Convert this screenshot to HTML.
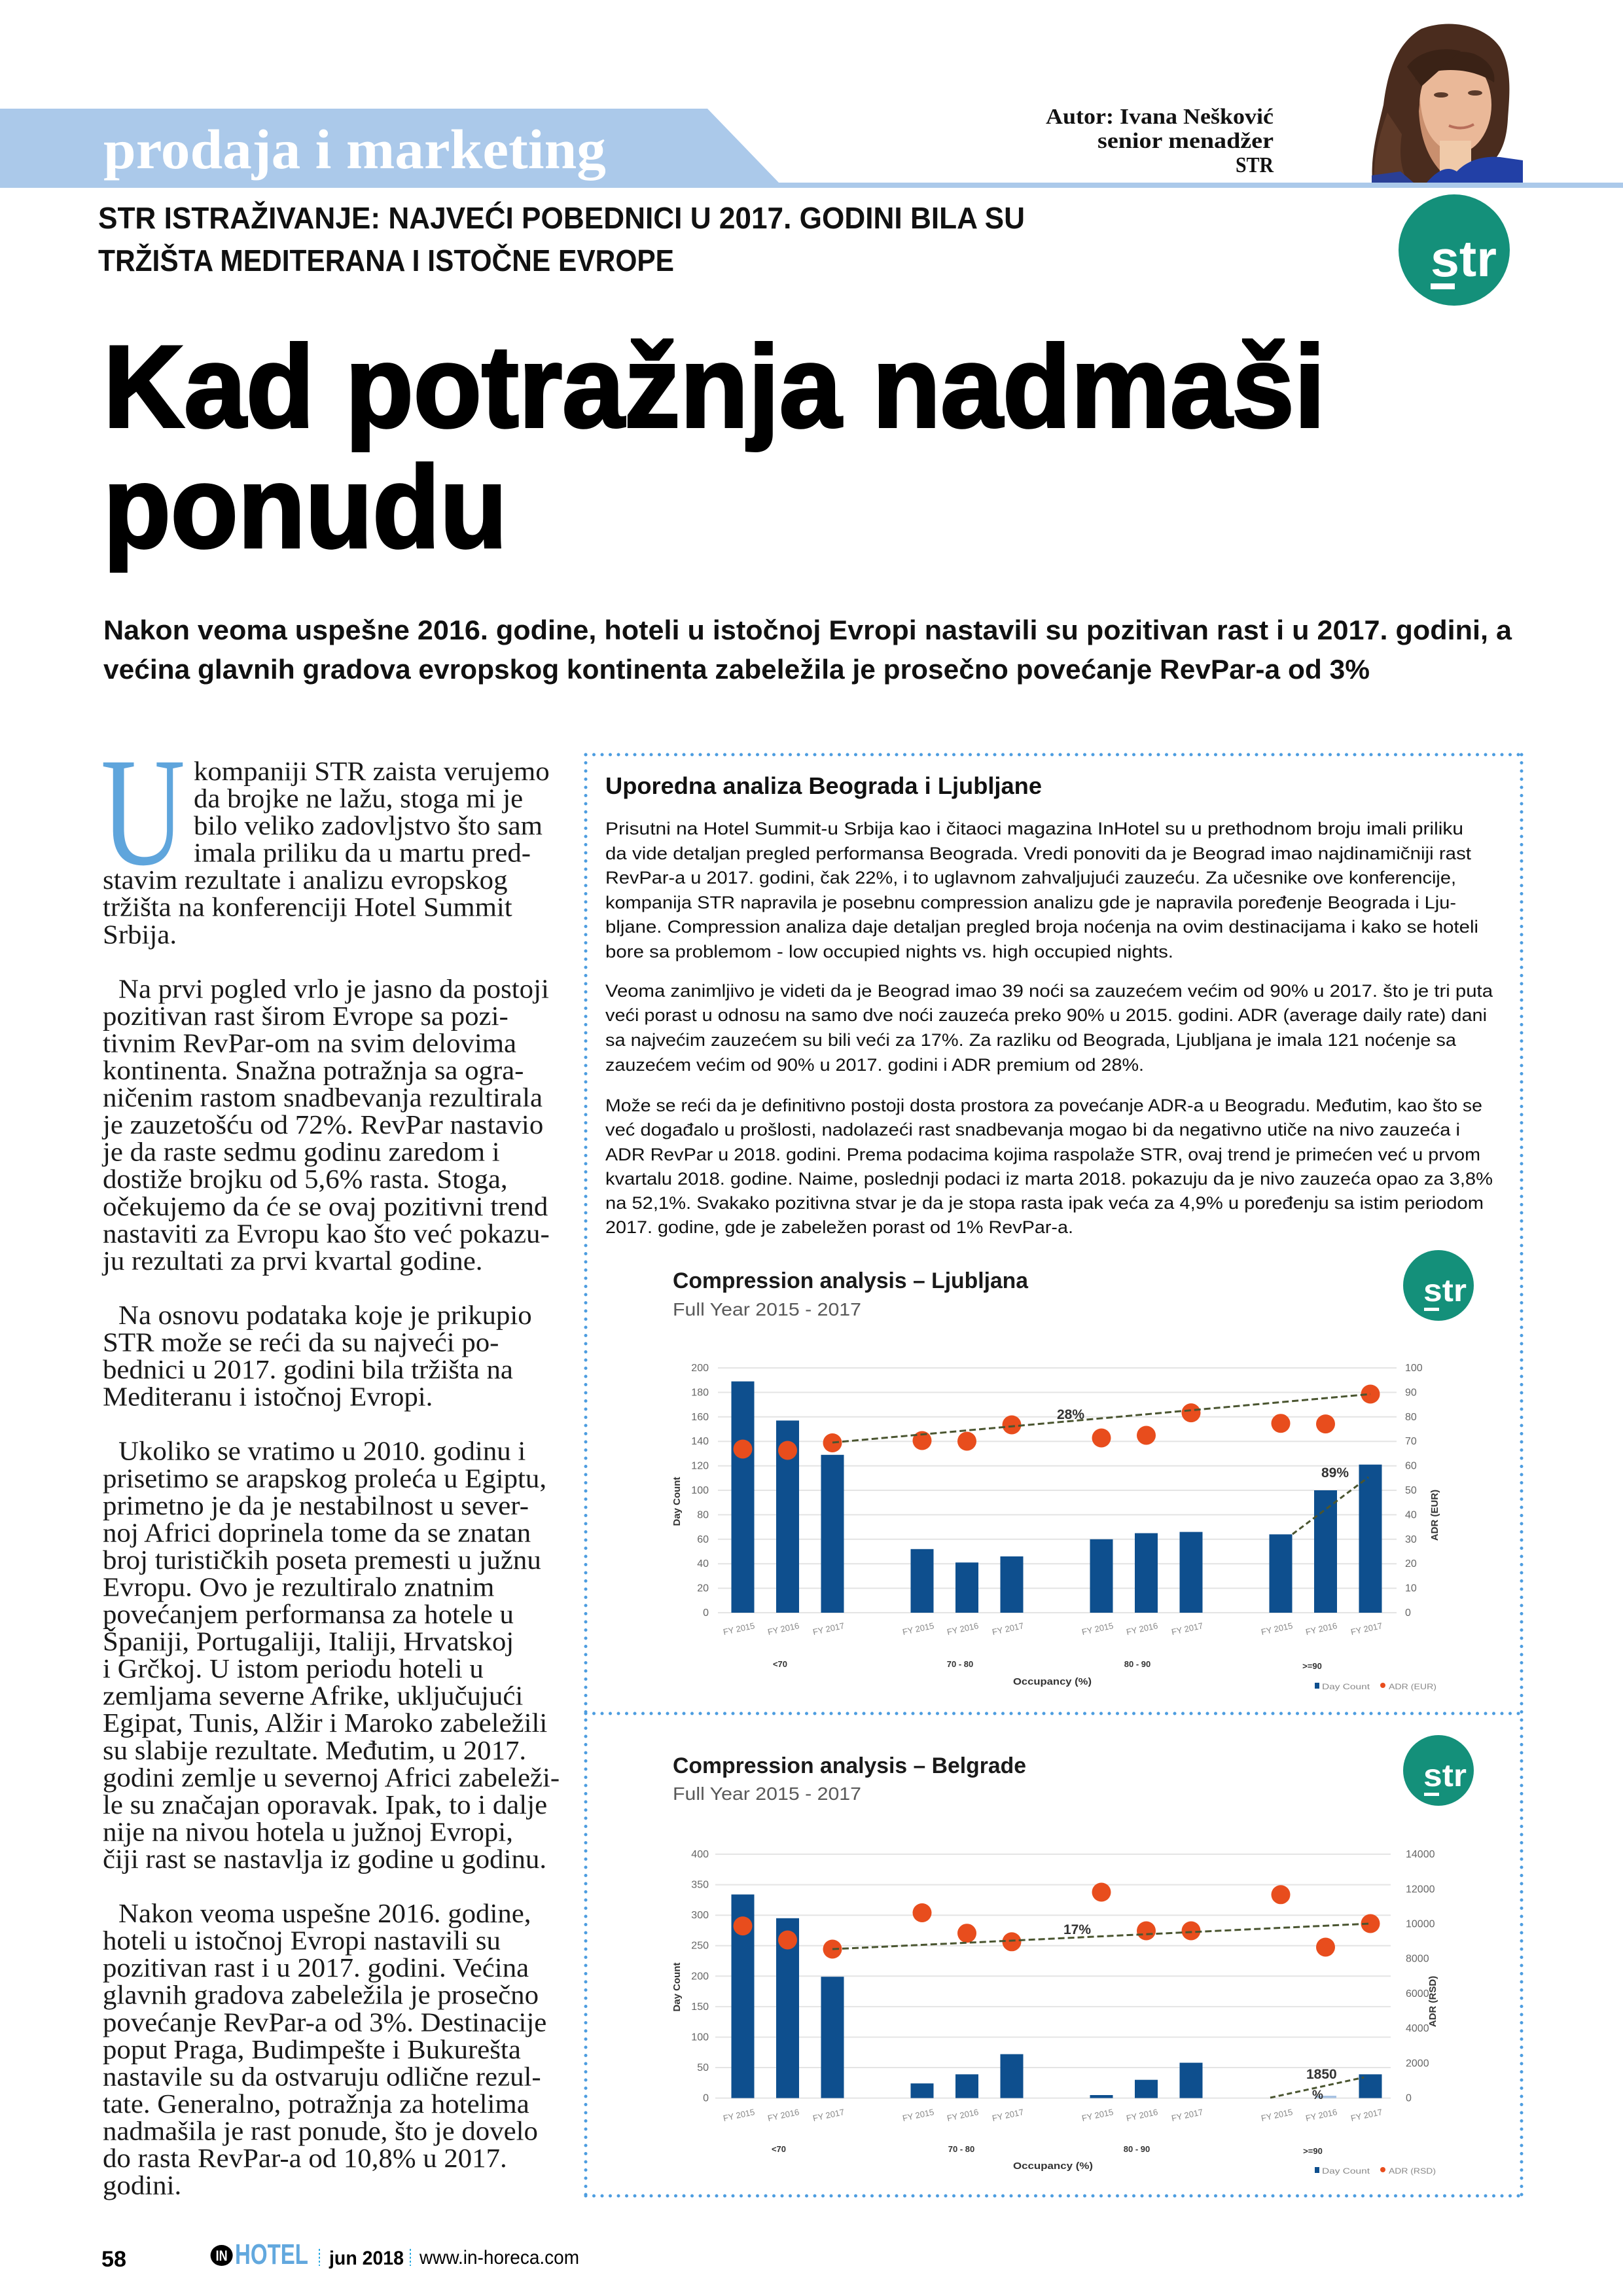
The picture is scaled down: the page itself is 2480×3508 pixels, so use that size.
<!DOCTYPE html>
<html>
<head>
<meta charset="utf-8">
<style>
html,body{margin:0;padding:0;background:#fff;}
svg{display:block;}
.sans{font-family:"Liberation Sans",sans-serif;}
.serif{font-family:"Liberation Serif",serif;}
</style>
</head>
<body>
<svg width="2480" height="3508" viewBox="0 0 2480 3508" xmlns="http://www.w3.org/2000/svg">
<rect x="0" y="0" width="2480" height="3508" fill="#ffffff"/>

<!-- ===== HEADER ===== -->
<polygon points="0,166 1081,166 1190,279 0,279" fill="#abc9ea"/>
<rect x="0" y="279" width="2480" height="8" fill="#abc9ea"/>
<text class="serif" x="158" y="257" font-size="86" font-weight="bold" fill="#ffffff" textLength="768" lengthAdjust="spacingAndGlyphs">prodaja i marketing</text>

<g class="serif" font-weight="bold" fill="#111" font-size="34" text-anchor="end">
<text x="1946" y="189" textLength="348" lengthAdjust="spacingAndGlyphs">Autor: Ivana Nešković</text>
<text x="1946" y="226" textLength="269" lengthAdjust="spacingAndGlyphs">senior menadžer</text>
<text x="1946" y="263" textLength="58" lengthAdjust="spacingAndGlyphs">STR</text>
</g>

<!-- Portrait -->
<g>
<path d="M2097,279 C2094,235 2106,195 2114,160 C2120,110 2135,65 2172,44 C2215,28 2268,38 2292,72 C2312,105 2306,150 2304,182 C2302,218 2292,238 2276,252 L2240,279 Z" fill="#4a2c1e"/>
<path d="M2100,279 C2098,240 2108,205 2120,172 L2142,205 C2137,240 2142,262 2152,279 Z" fill="#5e3a28"/>
<ellipse cx="2224" cy="160" rx="55" ry="75" fill="#eab898"/>
<path d="M2170,150 C2172,190 2186,220 2215,232 L2200,260 C2182,240 2170,210 2168,170 Z" fill="#c98f6e"/>
<rect x="2200" y="215" width="48" height="64" fill="#f0caa9"/>
<path d="M2162,122 C2176,86 2216,72 2252,82 C2276,92 2286,110 2283,126 C2256,108 2216,101 2177,113 Z" fill="#3a2216"/>
<path d="M2150,102 C2165,80 2200,70 2232,78 L2172,132 Z" fill="#3a2216"/>
<ellipse cx="2202" cy="145" rx="11" ry="4" fill="#5a3a2a"/>
<ellipse cx="2254" cy="142" rx="11" ry="4" fill="#5a3a2a"/>
<path d="M2214,192 Q2234,200 2252,190" stroke="#b86e5a" stroke-width="4" fill="none"/>
<path d="M2180,279 C2195,262 2210,252 2226,262 C2242,245 2266,238 2292,240 L2327,245 L2327,279 Z" fill="#2240a6"/>
<path d="M2096,268 L2140,262 L2160,279 L2096,279 Z" fill="#2a3f96"/>
</g>

<!-- Subtitle -->
<g class="sans" font-weight="bold" fill="#111" font-size="46">
<text x="150" y="349" textLength="1416" lengthAdjust="spacingAndGlyphs">STR ISTRAŽIVANJE: NAJVEĆI POBEDNICI U 2017. GODINI BILA SU</text>
<text x="150" y="414" textLength="880" lengthAdjust="spacingAndGlyphs">TRŽIŠTA MEDITERANA I ISTOČNE EVROPE</text>
</g>

<!-- STR logo big -->
<circle cx="2222" cy="382" r="85" fill="#14907a"/>
<text class="sans" x="2186" y="422" font-size="78" font-weight="bold" fill="#ffffff" textLength="101" lengthAdjust="spacingAndGlyphs">str</text>
<rect x="2186" y="433" width="37" height="9" fill="#ffffff"/>

<!-- Title -->
<g class="sans" font-weight="bold" fill="#000" stroke="#000" stroke-width="4">
<text x="158" y="652" font-size="178" textLength="1867" lengthAdjust="spacingAndGlyphs">Kad potražnja nadmaši</text>
<text x="158" y="836" font-size="178" textLength="617" lengthAdjust="spacingAndGlyphs">ponudu</text>
</g>

<!-- Lead -->
<g class="sans" font-weight="bold" fill="#111" font-size="42">
<text x="158" y="977" textLength="2152" lengthAdjust="spacingAndGlyphs">Nakon veoma uspešne 2016. godine, hoteli u istočnoj Evropi nastavili su pozitivan rast i u 2017. godini, a</text>
<text x="158" y="1037" textLength="1935" lengthAdjust="spacingAndGlyphs">većina glavnih gradova evropskog kontinenta zabeležila je prosečno povećanje RevPar-a od 3%</text>
</g>

<!-- ===== LEFT COLUMN ===== -->
<text class="serif" x="154" y="1320" font-size="237" fill="#5fa5dc" textLength="129" lengthAdjust="spacingAndGlyphs">U</text>
<g class="serif" font-size="41" fill="#1a1a1a" transform="translate(157 0) scale(1.045 1)">
<text x="133" y="1192.0">kompaniji STR zaista verujemo</text>
<text x="133" y="1233.5">da brojke ne lažu, stoga mi je</text>
<text x="133" y="1275.1">bilo veliko zadovljstvo što sam</text>
<text x="133" y="1316.6">imala priliku da u martu pred-</text>
<text x="0" y="1358.2">stavim rezultate i analizu evropskog</text>
<text x="0" y="1399.7">tržišta na konferenciji Hotel Summit</text>
<text x="0" y="1441.3">Srbija.</text>

<text x="23" y="1524.4">Na prvi pogled vrlo je jasno da postoji</text>
<text x="0" y="1565.9">pozitivan rast širom Evrope sa pozi-</text>
<text x="0" y="1607.5">tivnim RevPar-om na svim delovima</text>
<text x="0" y="1649.0">kontinenta. Snažna potražnja sa ogra-</text>
<text x="0" y="1690.6">ničenim rastom snadbevanja rezultirala</text>
<text x="0" y="1732.1">je zauzetošću od 72%. RevPar nastavio</text>
<text x="0" y="1773.7">je da raste sedmu godinu zaredom i</text>
<text x="0" y="1815.2">dostiže brojku od 5,6% rasta. Stoga,</text>
<text x="0" y="1856.8">očekujemo da će se ovaj pozitivni trend</text>
<text x="0" y="1898.3">nastaviti za Evropu kao što već pokazu-</text>
<text x="0" y="1939.9">ju rezultati za prvi kvartal godine.</text>

<text x="23" y="2023.0">Na osnovu podataka koje je prikupio</text>
<text x="0" y="2064.5">STR može se reći da su najveći po-</text>
<text x="0" y="2106.1">bednici u 2017. godini bila tržišta na</text>
<text x="0" y="2147.6">Mediteranu i istočnoj Evropi.</text>

<text x="23" y="2230.7">Ukoliko se vratimo u 2010. godinu i</text>
<text x="0" y="2272.3">prisetimo se arapskog proleća u Egiptu,</text>
<text x="0" y="2313.8">primetno je da je nestabilnost u sever-</text>
<text x="0" y="2355.4">noj Africi doprinela tome da se znatan</text>
<text x="0" y="2396.9">broj turističkih poseta premesti u južnu</text>
<text x="0" y="2438.5">Evropu. Ovo je rezultiralo znatnim</text>
<text x="0" y="2480.0">povećanjem performansa za hotele u</text>
<text x="0" y="2521.6">Španiji, Portugaliji, Italiji, Hrvatskoj</text>
<text x="0" y="2563.1">i Grčkoj. U istom periodu hoteli u</text>
<text x="0" y="2604.7">zemljama severne Afrike, uključujući</text>
<text x="0" y="2646.2">Egipat, Tunis, Alžir i Maroko zabeležili</text>
<text x="0" y="2687.8">su slabije rezultate. Međutim, u 2017.</text>
<text x="0" y="2729.3">godini zemlje u severnoj Africi zabeleži-</text>
<text x="0" y="2770.9">le su značajan oporavak. Ipak, to i dalje</text>
<text x="0" y="2812.4">nije na nivou hotela u južnoj Evropi,</text>
<text x="0" y="2854.0">čiji rast se nastavlja iz godine u godinu.</text>

<text x="23" y="2937.1">Nakon veoma uspešne 2016. godine,</text>
<text x="0" y="2978.6">hoteli u istočnoj Evropi nastavili su</text>
<text x="0" y="3020.2">pozitivan rast i u 2017. godini. Većina</text>
<text x="0" y="3061.7">glavnih gradova zabeležila je prosečno</text>
<text x="0" y="3103.3">povećanje RevPar-a od 3%. Destinacije</text>
<text x="0" y="3144.8">poput Praga, Budimpešte i Bukurešta</text>
<text x="0" y="3186.4">nastavile su da ostvaruju odlične rezul-</text>
<text x="0" y="3227.9">tate. Generalno, potražnja za hotelima</text>
<text x="0" y="3269.5">nadmašila je rast ponude, što je dovelo</text>
<text x="0" y="3311.0">do rasta RevPar-a od 10,8% u 2017.</text>
<text x="0" y="3352.6">godini.</text>
</g>

<!-- ===== BOX ===== -->
<g stroke="#4d9de0" stroke-width="5" stroke-linecap="round" stroke-dasharray="0 12.5" fill="none">
<line x1="895" y1="1153" x2="2325" y2="1153"/>
<line x1="895" y1="3355" x2="2325" y2="3355"/>
<line x1="895" y1="1153" x2="895" y2="3355"/>
<line x1="2325" y1="1153" x2="2325" y2="3355"/>
<line x1="895" y1="2618" x2="2325" y2="2618"/>
</g>

<text class="sans" x="925" y="1213" font-size="36" font-weight="bold" fill="#111" textLength="667" lengthAdjust="spacingAndGlyphs">Uporedna analiza Beograda i Ljubljane</text>

<g class="sans" font-size="27" fill="#111">
<text x="925" y="1275" textLength="1311" lengthAdjust="spacingAndGlyphs">Prisutni na Hotel Summit-u Srbija kao i čitaoci magazina InHotel su u prethodnom broju  imali priliku</text>
<text x="925" y="1313" textLength="1323" lengthAdjust="spacingAndGlyphs">da vide detaljan pregled performansa Beograda. Vredi ponoviti da je Beograd imao najdinamičniji rast</text>
<text x="925" y="1350" textLength="1300" lengthAdjust="spacingAndGlyphs">RevPar-a u 2017. godini, čak 22%, i to uglavnom zahvaljujući zauzeću. Za učesnike ove konferencije,</text>
<text x="925" y="1388" textLength="1300" lengthAdjust="spacingAndGlyphs">kompanija STR napravila je posebnu compression analizu gde je napravila poređenje Beograda i Lju-</text>
<text x="925" y="1425" textLength="1334" lengthAdjust="spacingAndGlyphs">bljane. Compression analiza daje detaljan pregled broja noćenja na ovim destinacijama i kako se hoteli</text>
<text x="925" y="1463" textLength="868" lengthAdjust="spacingAndGlyphs">bore sa problemom - low occupied nights vs. high occupied nights.</text>

<text x="925" y="1523" textLength="1356" lengthAdjust="spacingAndGlyphs">Veoma zanimljivo je videti da je Beograd imao 39 noći sa zauzećem većim od 90% u 2017. što je tri puta</text>
<text x="925" y="1560" textLength="1347" lengthAdjust="spacingAndGlyphs">veći porast u odnosu na samo dve noći zauzeća preko 90% u 2015. godini. ADR (average daily rate) dani</text>
<text x="925" y="1598" textLength="1300" lengthAdjust="spacingAndGlyphs">sa najvećim zauzećem su bili veći za 17%. Za razliku od Beograda, Ljubljana je imala 121 noćenje sa</text>
<text x="925" y="1636" textLength="823" lengthAdjust="spacingAndGlyphs">zauzećem većim od 90% u 2017. godini i ADR premium od 28%.</text>

<text x="925" y="1698" textLength="1340" lengthAdjust="spacingAndGlyphs">Može se reći da je definitivno postoji dosta prostora za povećanje ADR-a u Beogradu. Međutim, kao što se</text>
<text x="925" y="1735" textLength="1306" lengthAdjust="spacingAndGlyphs">već događalo u prošlosti, nadolazeći rast snadbevanja mogao bi da negativno utiče na nivo zauzeća i</text>
<text x="925" y="1773" textLength="1337" lengthAdjust="spacingAndGlyphs">ADR RevPar u 2018. godini. Prema podacima kojima raspolaže STR, ovaj trend je primećen već u prvom</text>
<text x="925" y="1810" textLength="1356" lengthAdjust="spacingAndGlyphs">kvartalu 2018. godine. Naime, poslednji podaci iz marta 2018. pokazuju da je nivo zauzeća opao za 3,8%</text>
<text x="925" y="1847" textLength="1342" lengthAdjust="spacingAndGlyphs">na 52,1%. Svakako pozitivna stvar je da je stopa rasta ipak veća za 4,9% u poređenju sa istim periodom</text>
<text x="925" y="1884" textLength="715" lengthAdjust="spacingAndGlyphs">2017. godine, gde je zabeležen porast od 1% RevPar-a.</text>
</g>

<!-- ===== CHART 1: Ljubljana ===== -->
<text class="sans" x="1028" y="1968" font-size="34" font-weight="bold" fill="#1a1a1a" textLength="543" lengthAdjust="spacingAndGlyphs">Compression analysis – Ljubljana</text>
<text class="sans" x="1028" y="2010" font-size="28" fill="#595959" textLength="288" lengthAdjust="spacingAndGlyphs">Full Year 2015 - 2017</text>
<circle cx="2198" cy="1964" r="54" fill="#14907a"/>
<text class="sans" x="2175" y="1988" font-size="48" font-weight="bold" fill="#fff" textLength="66" lengthAdjust="spacingAndGlyphs">str</text>
<rect x="2176" y="1998" width="23" height="5" fill="#fff"/>

<g stroke="#e4e4e4" stroke-width="2">
<line x1="1097" y1="2090" x2="2134" y2="2090"/>
<line x1="1097" y1="2127.4" x2="2134" y2="2127.4"/>
<line x1="1097" y1="2164.8" x2="2134" y2="2164.8"/>
<line x1="1097" y1="2202.2" x2="2134" y2="2202.2"/>
<line x1="1097" y1="2239.6" x2="2134" y2="2239.6"/>
<line x1="1097" y1="2277" x2="2134" y2="2277"/>
<line x1="1097" y1="2314.4" x2="2134" y2="2314.4"/>
<line x1="1097" y1="2351.8" x2="2134" y2="2351.8"/>
<line x1="1097" y1="2389.2" x2="2134" y2="2389.2"/>
<line x1="1097" y1="2426.6" x2="2134" y2="2426.6"/>
<line x1="1097" y1="2464" x2="2134" y2="2464"/>
</g>
<g class="sans" font-size="16" fill="#666" text-anchor="end">
<text x="1083" y="2095">200</text><text x="1083" y="2132.4">180</text><text x="1083" y="2169.8">160</text>
<text x="1083" y="2207.2">140</text><text x="1083" y="2244.6">120</text><text x="1083" y="2282">100</text>
<text x="1083" y="2319.4">80</text><text x="1083" y="2356.8">60</text><text x="1083" y="2394.2">40</text>
<text x="1083" y="2431.6">20</text><text x="1083" y="2469">0</text>
</g>
<g class="sans" font-size="16" fill="#666">
<text x="2147" y="2095">100</text><text x="2147" y="2132.4">90</text><text x="2147" y="2169.8">80</text>
<text x="2147" y="2207.2">70</text><text x="2147" y="2244.6">60</text><text x="2147" y="2282">50</text>
<text x="2147" y="2319.4">40</text><text x="2147" y="2356.8">30</text><text x="2147" y="2394.2">20</text>
<text x="2147" y="2431.6">10</text><text x="2147" y="2469">0</text>
</g>
<text class="sans" font-size="15" font-weight="bold" fill="#333" text-anchor="middle" transform="translate(1039 2294) rotate(-90)">Day Count</text>
<text class="sans" font-size="15" font-weight="bold" fill="#333" text-anchor="middle" transform="translate(2197 2315) rotate(-90)">ADR (EUR)</text>

<g fill="#0e4f8e">
<rect x="1117.5" y="2110.6" width="35" height="353.4"/>
<rect x="1186" y="2170.4" width="35" height="293.6"/>
<rect x="1254.5" y="2222.8" width="35" height="241.2"/>
<rect x="1391.5" y="2366.8" width="35" height="97.2"/>
<rect x="1460" y="2387.3" width="35" height="76.7"/>
<rect x="1528.5" y="2378" width="35" height="86"/>
<rect x="1665.5" y="2351.8" width="35" height="112.2"/>
<rect x="1734" y="2342.5" width="35" height="121.5"/>
<rect x="1802.5" y="2340.6" width="35" height="123.4"/>
<rect x="1939.5" y="2344.3" width="35" height="119.7"/>
<rect x="2008" y="2277" width="35" height="187"/>
<rect x="2076.5" y="2237.7" width="35" height="226.3"/>
</g>
<g fill="#e84d1d">
<circle cx="1135" cy="2214" r="14.5"/>
<circle cx="1203.5" cy="2216" r="14.5"/>
<circle cx="1272" cy="2204.5" r="14.5"/>
<circle cx="1409" cy="2201" r="14.5"/>
<circle cx="1477.5" cy="2202" r="14.5"/>
<circle cx="1546" cy="2177" r="14.5"/>
<circle cx="1683" cy="2197" r="14.5"/>
<circle cx="1751.5" cy="2193" r="14.5"/>
<circle cx="1820" cy="2158.6" r="14.5"/>
<circle cx="1957" cy="2174.7" r="14.5"/>
<circle cx="2025.5" cy="2175.6" r="14.5"/>
<circle cx="2094" cy="2130" r="14.5"/>
</g>
<line x1="1272" y1="2204" x2="2094" y2="2130" stroke="#4a5530" stroke-width="3" stroke-dasharray="10 5"/>
<line x1="1975" y1="2344" x2="2091" y2="2257" stroke="#4a5530" stroke-width="3" stroke-dasharray="8 5"/>
<text class="sans" x="1615" y="2168" font-size="21" font-weight="bold" fill="#333">28%</text>
<text class="sans" x="2019" y="2257" font-size="21" font-weight="bold" fill="#333">89%</text>

<g class="sans" font-size="13" fill="#888" text-anchor="middle">
<text transform="translate(1130 2493) rotate(-12)">FY 2015</text>
<text transform="translate(1198 2493) rotate(-12)">FY 2016</text>
<text transform="translate(1267 2493) rotate(-12)">FY 2017</text>
<text transform="translate(1404 2493) rotate(-12)">FY 2015</text>
<text transform="translate(1472 2493) rotate(-12)">FY 2016</text>
<text transform="translate(1541 2493) rotate(-12)">FY 2017</text>
<text transform="translate(1678 2493) rotate(-12)">FY 2015</text>
<text transform="translate(1746 2493) rotate(-12)">FY 2016</text>
<text transform="translate(1815 2493) rotate(-12)">FY 2017</text>
<text transform="translate(1952 2493) rotate(-12)">FY 2015</text>
<text transform="translate(2020 2493) rotate(-12)">FY 2016</text>
<text transform="translate(2089 2493) rotate(-12)">FY 2017</text>
</g>
<g class="sans" font-size="13" font-weight="bold" fill="#333" text-anchor="middle">
<text x="1192" y="2547">&lt;70</text>
<text x="1467" y="2547">70 - 80</text>
<text x="1738" y="2547">80 - 90</text>
<text x="2005" y="2550">&gt;=90</text>
</g>
<text class="sans" x="1548" y="2574" font-size="15" font-weight="bold" fill="#333" textLength="120" lengthAdjust="spacingAndGlyphs">Occupancy (%)</text>
<rect x="2009" y="2571" width="7" height="9" fill="#0e4f8e"/>
<text class="sans" x="2020" y="2581" font-size="12" fill="#888" textLength="73" lengthAdjust="spacingAndGlyphs">Day Count</text>
<circle cx="2113" cy="2575" r="4" fill="#e84d1d"/>
<text class="sans" x="2122" y="2581" font-size="12" fill="#888" textLength="73" lengthAdjust="spacingAndGlyphs">ADR (EUR)</text>

<!-- ===== CHART 2: Belgrade ===== -->
<text class="sans" x="1028" y="2709" font-size="34" font-weight="bold" fill="#1a1a1a" textLength="540" lengthAdjust="spacingAndGlyphs">Compression analysis – Belgrade</text>
<text class="sans" x="1028" y="2750" font-size="28" fill="#595959" textLength="288" lengthAdjust="spacingAndGlyphs">Full Year 2015 - 2017</text>
<circle cx="2198" cy="2705" r="54" fill="#14907a"/>
<text class="sans" x="2175" y="2729" font-size="48" font-weight="bold" fill="#fff" textLength="66" lengthAdjust="spacingAndGlyphs">str</text>
<rect x="2176" y="2739" width="23" height="5" fill="#fff"/>

<g stroke="#e4e4e4" stroke-width="2">
<line x1="1093" y1="2833" x2="2125" y2="2833"/>
<line x1="1093" y1="2879.6" x2="2125" y2="2879.6"/>
<line x1="1093" y1="2926.2" x2="2125" y2="2926.2"/>
<line x1="1093" y1="2972.7" x2="2125" y2="2972.7"/>
<line x1="1093" y1="3019.3" x2="2125" y2="3019.3"/>
<line x1="1093" y1="3065.9" x2="2125" y2="3065.9"/>
<line x1="1093" y1="3112.5" x2="2125" y2="3112.5"/>
<line x1="1093" y1="3159" x2="2125" y2="3159"/>
<line x1="1093" y1="3205.6" x2="2125" y2="3205.6"/>
</g>
<g class="sans" font-size="16" fill="#666" text-anchor="end">
<text x="1083" y="2838">400</text><text x="1083" y="2884.6">350</text><text x="1083" y="2931.2">300</text>
<text x="1083" y="2977.7">250</text><text x="1083" y="3024.3">200</text><text x="1083" y="3070.9">150</text>
<text x="1083" y="3117.5">100</text><text x="1083" y="3164">50</text><text x="1083" y="3210.6">0</text>
</g>
<g class="sans" font-size="16" fill="#666">
<text x="2148" y="2838">14000</text><text x="2148" y="2891.3">12000</text><text x="2148" y="2944.5">10000</text>
<text x="2148" y="2997.7">8000</text><text x="2148" y="3050.9">6000</text><text x="2148" y="3104.1">4000</text>
<text x="2148" y="3157.4">2000</text><text x="2148" y="3210.6">0</text>
</g>
<text class="sans" font-size="15" font-weight="bold" fill="#333" text-anchor="middle" transform="translate(1039 3036) rotate(-90)">Day Count</text>
<text class="sans" font-size="15" font-weight="bold" fill="#333" text-anchor="middle" transform="translate(2194 3058) rotate(-90)">ADR (RSD)</text>

<g fill="#0e4f8e">
<rect x="1117.5" y="2894.5" width="35" height="311.1"/>
<rect x="1186" y="2930.8" width="35" height="274.8"/>
<rect x="1254.5" y="3020.2" width="35" height="185.4"/>
<rect x="1391.5" y="3183.2" width="35" height="22.4"/>
<rect x="1460" y="3169.3" width="35" height="36.3"/>
<rect x="1528.5" y="3138.5" width="35" height="67.1"/>
<rect x="1665.5" y="3201" width="35" height="4.6"/>
<rect x="1734" y="3177.7" width="35" height="27.9"/>
<rect x="1802.5" y="3151.6" width="35" height="54"/>
<rect x="2076.5" y="3169.3" width="35" height="36.3"/>
</g>
<rect x="2010" y="3202" width="32" height="3.6" fill="#a8c2e2"/>
<g fill="#e84d1d">
<circle cx="1135" cy="2942.6" r="14.5"/>
<circle cx="1203.5" cy="2964" r="14.5"/>
<circle cx="1272" cy="2978" r="14.5"/>
<circle cx="1409" cy="2922.5" r="14.5"/>
<circle cx="1477.5" cy="2953.7" r="14.5"/>
<circle cx="1546" cy="2966.8" r="14.5"/>
<circle cx="1683" cy="2891" r="14.5"/>
<circle cx="1751.5" cy="2950" r="14.5"/>
<circle cx="1820" cy="2950" r="14.5"/>
<circle cx="1957" cy="2894.8" r="14.5"/>
<circle cx="2025.5" cy="2975" r="14.5"/>
<circle cx="2094" cy="2939" r="14.5"/>
</g>
<line x1="1272" y1="2978" x2="2094" y2="2939" stroke="#4a5530" stroke-width="3" stroke-dasharray="10 5"/>
<line x1="1941" y1="3205" x2="2084" y2="3174" stroke="#4a5530" stroke-width="3" stroke-dasharray="8 5"/>
<text class="sans" x="1625" y="2955" font-size="21" font-weight="bold" fill="#333">17%</text>
<text class="sans" x="1996" y="3176" font-size="21" font-weight="bold" fill="#333">1850</text>
<text class="sans" x="2005" y="3207" font-size="19" font-weight="bold" fill="#333">%</text>

<g class="sans" font-size="13" fill="#888" text-anchor="middle">
<text transform="translate(1130 3236) rotate(-12)">FY 2015</text>
<text transform="translate(1198 3236) rotate(-12)">FY 2016</text>
<text transform="translate(1267 3236) rotate(-12)">FY 2017</text>
<text transform="translate(1404 3236) rotate(-12)">FY 2015</text>
<text transform="translate(1472 3236) rotate(-12)">FY 2016</text>
<text transform="translate(1541 3236) rotate(-12)">FY 2017</text>
<text transform="translate(1678 3236) rotate(-12)">FY 2015</text>
<text transform="translate(1746 3236) rotate(-12)">FY 2016</text>
<text transform="translate(1815 3236) rotate(-12)">FY 2017</text>
<text transform="translate(1952 3236) rotate(-12)">FY 2015</text>
<text transform="translate(2020 3236) rotate(-12)">FY 2016</text>
<text transform="translate(2089 3236) rotate(-12)">FY 2017</text>
</g>
<g class="sans" font-size="13" font-weight="bold" fill="#333" text-anchor="middle">
<text x="1190" y="3288">&lt;70</text>
<text x="1469" y="3288">70 - 80</text>
<text x="1737" y="3288">80 - 90</text>
<text x="2006" y="3291">&gt;=90</text>
</g>
<text class="sans" x="1548" y="3314" font-size="15" font-weight="bold" fill="#333" textLength="122" lengthAdjust="spacingAndGlyphs">Occupancy (%)</text>
<rect x="2009" y="3311" width="7" height="9" fill="#0e4f8e"/>
<text class="sans" x="2020" y="3321" font-size="12" fill="#888" textLength="73" lengthAdjust="spacingAndGlyphs">Day Count</text>
<circle cx="2113" cy="3315" r="4" fill="#e84d1d"/>
<text class="sans" x="2122" y="3321" font-size="12" fill="#888" textLength="72" lengthAdjust="spacingAndGlyphs">ADR (RSD)</text>

<!-- ===== FOOTER ===== -->
<text class="sans" x="155" y="3463" font-size="34" font-weight="bold" fill="#000" textLength="38" lengthAdjust="spacingAndGlyphs">58</text>
<ellipse cx="338.6" cy="3446" rx="17" ry="16" fill="#000"/>
<text class="sans" x="338.6" y="3454" font-size="22" font-weight="bold" fill="#fff" text-anchor="middle" textLength="18" lengthAdjust="spacingAndGlyphs">IN</text>
<text class="sans" x="359" y="3459" font-size="44" font-weight="bold" fill="#62a8de" textLength="112" lengthAdjust="spacingAndGlyphs">HOTEL</text>
<line x1="488" y1="3436" x2="488" y2="3462" stroke="#29abe2" stroke-width="2" stroke-dasharray="3 3"/>
<text class="sans" x="503" y="3460" font-size="30" font-weight="bold" fill="#000" textLength="114" lengthAdjust="spacingAndGlyphs">jun 2018</text>
<line x1="627" y1="3436" x2="627" y2="3462" stroke="#29abe2" stroke-width="2" stroke-dasharray="3 3"/>
<text class="sans" x="641" y="3459" font-size="30" fill="#000" textLength="244" lengthAdjust="spacingAndGlyphs">www.in-horeca.com</text>
</svg>
</body>
</html>
